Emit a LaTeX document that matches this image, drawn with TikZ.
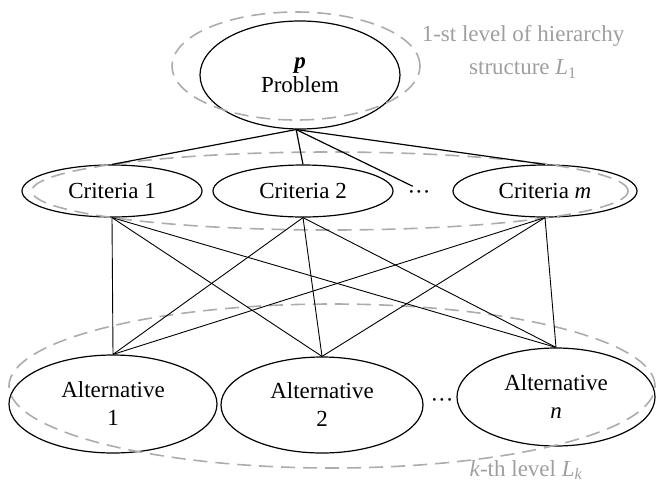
\documentclass[tikz,border=0pt]{standalone}
\usepackage{fontspec}
\setmainfont{Liberation Serif}
\usetikzlibrary{shapes.geometric}

\tikzset{
  stage/.style={draw, ellipse, line width=1.2pt, inner sep=0pt, align=center,
    font=\fontsize{23}{28}\selectfont},
  layer/.style={draw=gray!65, line width=1.6pt, dash pattern=on 14pt off 8pt},
  note/.style={text=gray!75, align=center, font=\fontsize{23}{33}\selectfont},
  link/.style={line width=0.9pt},
  gap/.style={font=\fontsize{23}{28}\selectfont, inner sep=1pt}
}

\begin{document}
\begin{tikzpicture}[x=1pt, y=-1pt]
    \useasboundingbox (0,0) rectangle (658,483);

    % Level 1: the problem
    \node[stage, minimum width=200pt, minimum height=108pt] (problem) at (300,75)
        {\textbf{\textit{p}}\\[-4pt]Problem};
    \draw[layer] (296,66) ellipse [x radius=124pt, y radius=54pt];
    \node[note] (lone) at (523,52) {1-st level of hierarchy\\structure \textit{L}\textsubscript{1}};

    % Level 2: the criteria
    \node[stage, minimum width=180pt, minimum height=52pt] (crit1) at (112,191) {Criteria 1};
    \node[stage, minimum width=180pt, minimum height=52pt] (crit2) at (303,191) {Criteria 2};
    \node[stage, minimum width=184pt, minimum height=52pt] (critm) at (545,191) {Criteria \textit{m}};
    \node[gap] (cdots) at (419,195) {\textperiodcentered\textperiodcentered\textperiodcentered};
    \draw[layer] (330,191) ellipse [x radius=298pt, y radius=39pt];

    % Level k: the alternatives
    \node[stage, minimum width=208pt, minimum height=98pt] (alt1) at (113,404) {Alternative\\1};
    \node[stage, minimum width=202pt, minimum height=96pt] (alt2) at (322,405) {Alternative\\2};
    \node[stage, minimum width=198pt, minimum height=98pt] (altn) at (556,397) {Alternative\\\textit{n}};
    \node[gap] (adots) at (442,403) {\textperiodcentered\textperiodcentered\textperiodcentered};
    \draw[layer] (332,386) ellipse [x radius=323pt, y radius=82pt];
    \node[note] (lk) at (526,470) {\textit{k}-th level \textit{L}\textsubscript{\textit{k}}};

    % Problem to criteria
    \draw[link, line width=1.2pt] (problem.266) -- (crit1.north);
    \draw[link, line width=1.2pt] (problem.266) -- (crit2.north);
    \draw[link, line width=1.2pt, shorten >=7pt] (problem.266) -- (cdots.north);
    \draw[link, line width=1.2pt] (problem.266) -- (critm.north);

    % Criteria to alternatives
    \foreach \c in {crit1,crit2,critm}
      \foreach \a in {alt1,alt2,altn}
        \draw[link] (\c.south) -- (\a.north);
\end{tikzpicture}
\end{document}
